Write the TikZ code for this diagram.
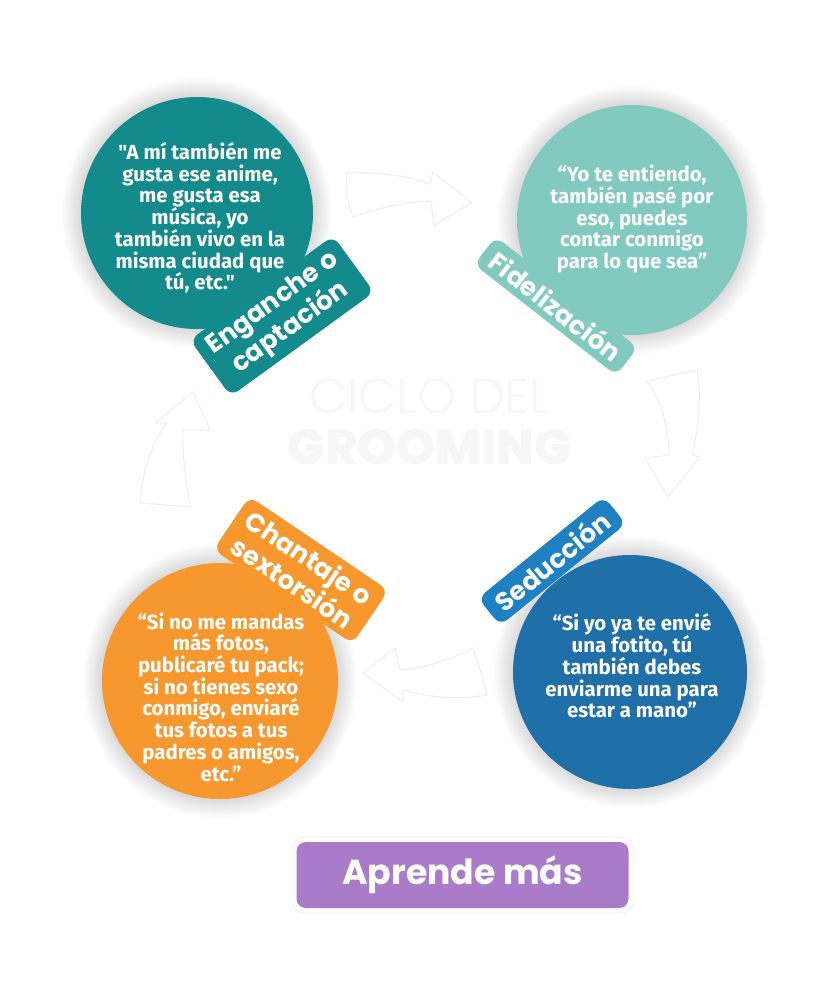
\documentclass[tikz,border=0pt]{standalone}
\usepackage{fontspec}
\setmainfont{Fira Sans}
\newfontfamily\qfont{Fira Sans}
\newfontfamily\pfont{Poppins}
\IfFontExistsTF{Poppins Light}{\newfontfamily\plight{Poppins Light}}{\newfontfamily\plight{Poppins}}
\IfFontExistsTF{Poppins ExtraBold}{\newfontfamily\pheavy{Poppins ExtraBold}}{\newfontfamily\pheavy{Poppins}[UprightFont=*-Bold]}
\definecolor{tealA}{HTML}{138A8C}
\definecolor{mintA}{HTML}{82C9C0}
\definecolor{orngA}{HTML}{F7982F}
\definecolor{bluA}{HTML}{1F6FA8}
\definecolor{bluB}{HTML}{1F80C2}
\definecolor{purpA}{HTML}{A97BC8}
\definecolor{ghostA}{HTML}{F0F0F0}
\definecolor{ghostT}{HTML}{F7F7F7}
\newcommand\myhalo[2]{\foreach \k in {1,...,12}{\fill[black,opacity=0.011] (#1) circle[radius=#2+\k*1.6];}}
\begin{document}
\begin{tikzpicture}[x=0.75pt,y=-0.75pt,
  bubble/.style={circle,inner sep=0pt},
  quote/.style={text=white,align=center,font=\qfont\bfseries\fontsize{15.3}{16.3}\selectfont},
  tagbox/.style={rounded corners=7pt,text=white,align=center,inner xsep=8pt,inner ysep=5pt,
     font=\pfont\bfseries\fontsize{19.5}{20.5}\selectfont},
  ghostarrow/.style={draw=ghostA,line width=0.9pt,line join=round}]
\fill[white] (0,0) rectangle (827,983);
\useasboundingbox (0,0) rectangle (827,983);

% faint title
\node[text=ghostT,font=\plight\fontsize{37}{40}\selectfont] (t1) at (430,396) {CICLO DEL};
\node[text=ghostT,font=\pheavy\fontsize{37}{40}\selectfont] (t2) at (430,447) {GROOMING};

% faint arrows
\draw[ghostarrow] (347,173) .. controls (380,172) and (410,176) .. (430,184) -- (433,172) -- (472,203) -- (434,225) -- (431,201)
  .. controls (405,202) and (378,208) .. (353,217) .. controls (348,205) and (346,190) .. (347,173) -- cycle;
\draw[ghostarrow] (647,381) -- (697,370) .. controls (702,400) and (698,430) .. (692,455) -- (700,457) -- (668,497) -- (645,458) -- (669,455)
  .. controls (668,420) and (660,400) .. (647,381) -- cycle;
\draw[ghostarrow] (473,648) .. controls (478,665) and (484,680) .. (487,695) .. controls (460,700) and (430,698) .. (403,690) -- (403,702) -- (363,673) -- (395,648) -- (400,670)
  .. controls (425,668) and (450,660) .. (473,648) -- cycle;
\draw[ghostarrow] (140,503) -- (190,507) .. controls (186,480) and (182,455) .. (183,430) -- (210,430) -- (193,392) -- (155,423) -- (167,423)
  .. controls (150,445) and (142,475) .. (140,503) -- cycle;

% circles
\coordinate (p1) at (197,213);
\coordinate (p2) at (632,220);
\coordinate (p3) at (220,681);
\coordinate (p4) at (630,672);
\myhalo{p1}{116}
\myhalo{p2}{115}
\myhalo{p3}{118}
\myhalo{p4}{117}
\node[bubble,fill=tealA,minimum size=174pt] (c1) at (p1) {};
\node[bubble,fill=mintA,minimum size=172.5pt] (c2) at (p2) {};
\node[bubble,fill=orngA,minimum size=177pt] (c3) at (p3) {};
\node[bubble,fill=bluA,minimum size=175.5pt] (c4) at (p4) {};

\node[quote] (q1) at (200,218) {"A mí también me\\gusta ese anime,\\me gusta esa\\música, yo\\también vivo en la\\misma ciudad que\\tú, etc."};
\node[quote] (q2) at (632,219) {“Yo te entiendo,\\también pasé por\\eso, puedes\\contar conmigo\\para lo que sea”};
\node[quote] (q3) at (221,697) {“Si no me mandas\\más fotos,\\publicaré tu pack;\\si no tienes sexo\\conmigo, enviaré\\tus fotos a tus\\padres o amigos,\\etc.”};
\node[quote] (q4) at (632,666) {“Si yo ya te envié\\una fotito, tú\\también debes\\enviarme una para\\estar a mano”};

% tags
\node[tagbox,fill=tealA,rotate=36] (g1) at (282,316) {Enganche o\\captación};
\node[tagbox,fill=mintA,rotate=-38] (g2) at (556,306) {Fidelización};
\node[tagbox,fill=orngA,rotate=-34] (g3) at (301,570) {Chantaje o\\sextorsión};
\node[tagbox,fill=bluB,rotate=39] (g4) at (552,561) {Seducción};

% button
\node[draw=black!7,fill=white,rounded corners=9pt,minimum width=256pt,minimum height=57pt] (bb) at (462.5,875) {};
\node[fill=purpA,rounded corners=7pt,minimum width=249pt,minimum height=49.5pt,text=white,
  font=\pfont\bfseries\fontsize{26}{29}\selectfont] (btn) at (bb.center) {Aprende más};
\end{tikzpicture}
\end{document}
